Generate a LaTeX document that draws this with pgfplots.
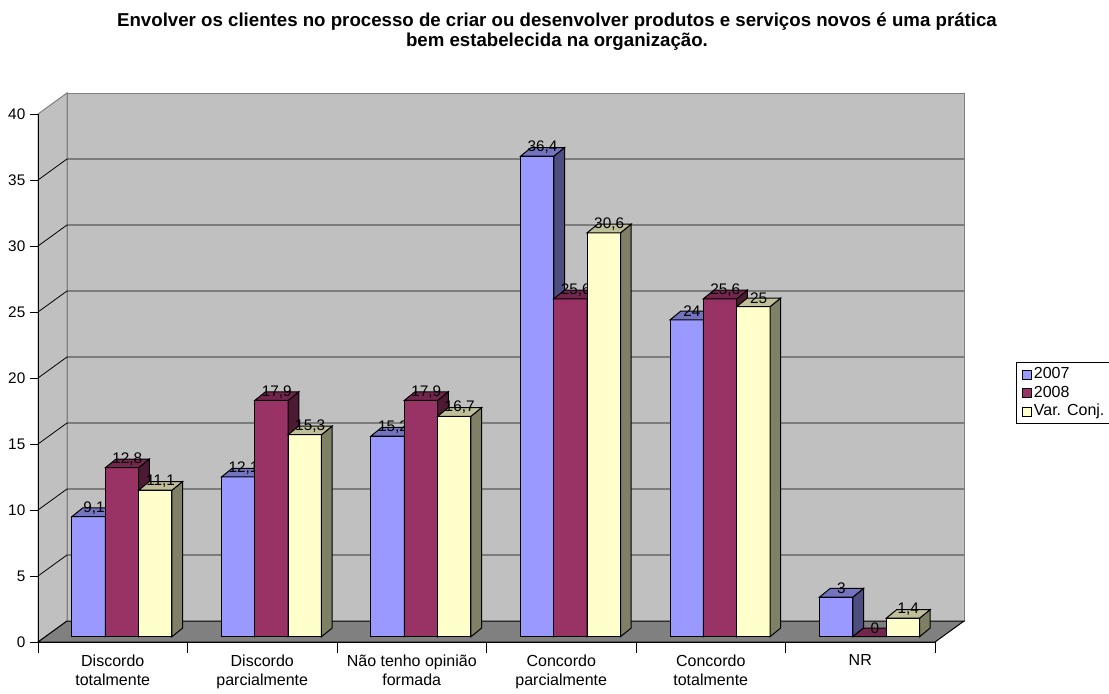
\documentclass[border=0pt]{standalone}
\usepackage{pgfplots}
\pgfplotsset{compat=1.18}
\usepackage{pgfplotstable}
\usepackage{fontspec}
\setmainfont{Liberation Sans}

\definecolor{cA}{HTML}{9999FF}\definecolor{cAs}{HTML}{4D4D80}\definecolor{cAt}{HTML}{7373BF}
\definecolor{cB}{HTML}{993366}\definecolor{cBs}{HTML}{4D1A33}\definecolor{cBt}{HTML}{73264D}
\definecolor{cC}{HTML}{FFFFCC}\definecolor{cCs}{HTML}{808066}\definecolor{cCt}{HTML}{BFBF99}
\definecolor{wallgray}{HTML}{C0C0C0}\definecolor{floorgray}{HTML}{808080}\definecolor{edgegray}{HTML}{808080}

% full 3D bar: front, side and top faces; #1 name, #2 front, #3 side, #4 top, #5 bar shift
\newcommand\defcube[5]{%
\pgfdeclareplotmark{#1}{%
 \begin{pgfscope}%
 \pgftransformxshift{#5}%
 \pgfsetstrokecolor{black}%
 \pgfsetfillcolor{#2}%
 \pgfpathrectanglecorners{\pgfpoint{-12.5pt}{0pt}}{\pgfpoint{12.5pt}{-\h*9.9pt}}%
 \pgfusepath{fill,stroke}%
 \pgfsetfillcolor{#3}%
 \pgfpathmoveto{\pgfpoint{12.5pt}{0pt}}%
 \pgfpathlineto{\pgfpoint{20.5pt}{6.5pt}}%
 \pgfpathlineto{\pgfpoint{20.5pt}{6.5pt-\h*9.9pt}}%
 \pgfpathlineto{\pgfpoint{12.5pt}{-\h*9.9pt}}%
 \pgfpathclose
 \pgfusepath{fill,stroke}%
 \pgfsetfillcolor{#4}%
 \pgfpathmoveto{\pgfpoint{-12.5pt}{0pt}}%
 \pgfpathlineto{\pgfpoint{-4.5pt}{6.5pt}}%
 \pgfpathlineto{\pgfpoint{20.5pt}{6.5pt}}%
 \pgfpathlineto{\pgfpoint{12.5pt}{0pt}}%
 \pgfpathclose
 \pgfusepath{fill,stroke}%
 \end{pgfscope}%
}}
\defcube{cubeA}{cA}{cAs}{cAt}{-25pt}
\defcube{cubeB}{cB}{cBs}{cBt}{0pt}
\defcube{cubeC}{cC}{cCs}{cCt}{25pt}

\pgfplotstableread{
cat a b c
0 9.1 12.8 11.1
1 12.1 17.9 15.3
2 15.2 17.9 16.7
3 36.4 25.6 30.6
4 24 25.6 25
5 3 0 1.4
}\data

\begin{document}
\begin{tikzpicture}
\begin{scope}[x=0.75pt,y=-0.75pt]
\filldraw[fill=wallgray, draw=edgegray, line width=0.75pt] (38,642) -- (38,114) -- (67,93) -- (67,621) -- cycle;
\filldraw[fill=wallgray, draw=edgegray, line width=0.75pt] (67,93) rectangle (964,621);
\foreach \v in {5,10,...,35} {\draw[black, line width=0.6pt] (38,{642-13.2*\v}) -- (67,{621-13.2*\v}) -- (964,{621-13.2*\v});}
\filldraw[fill=floorgray, draw=black, line width=0.75pt] (38,642) -- (935,642) -- (964,621) -- (67,621) -- cycle;
\node[align=center, font=\bfseries\fontsize{14}{15}\selectfont] at (557,32)
 {Envolver os clientes no processo de criar ou desenvolver produtos e serviços novos é uma prática\\bem estabelecida na organização.};
\end{scope}

% front plane: axes, ticks, category labels
\begin{axis}[
 at={(28.5pt,-481.5pt)}, anchor=south west,
 x=112.125pt, y=9.9pt,
 xmin=0, xmax=6, ymin=0, ymax=40,
 axis x line*=bottom, axis y line*=left,
 axis line style={-, black, line width=0.75pt},
 xtick={0,...,6}, x tick label as interval,
 xticklabels={{Discordo\\totalmente},{Discordo\\parcialmente},{Não tenho opinião\\formada},{Concordo\\parcialmente},{Concordo\\totalmente},{NR}},
 ytick={0,5,...,40},
 tick align=outside, major tick length=6pt,
 xtick style={/pgfplots/major tick length=8.25pt},
 tick style={black, line width=0.75pt},
 xticklabel style={align=center, font=\fontsize{12}{14.25}\selectfont, yshift=-2.5pt, inner ysep=1pt},
 yticklabel style={font=\fontsize{11.5}{13}\selectfont},
 /pgf/number format/assume math mode=true,
]
\end{axis}

% bar plane
\begin{axis}[
 at={(33.75pt,-477.525pt)}, anchor=south west,
 x=112.125pt, y=9.9pt,
 xmin=-0.515, xmax=5.48, ymin=0, ymax=40,
 hide axis, clip=false,
 /pgf/number format/use comma,
 /pgf/number format/assume math mode=true,
 nodes near coords,
 nodes near coords style={font=\fontsize{11.5}{13}\selectfont, anchor=center, xshift=4pt, yshift=6.5pt, inner sep=0pt},
 legend style={at={(1.0836,0.5203)}, anchor=north west, draw=black, line width=0.75pt,
   font=\fontsize{12}{13}\selectfont, inner xsep=4pt, inner ysep=2pt, row sep=0pt,
   nodes={inner sep=1.5pt, text height=8.6pt, text depth=2.4pt}},
 legend cell align=left,
 legend image code/.code={\draw[#1, draw=black, line width=0.6pt] (0pt,-3.4pt) rectangle (6.8pt,3.4pt);},
]
\addplot[ybar, bar width=25pt, bar shift=-25pt, fill=cA, draw=black, line width=0.75pt,
  mark=cubeA, visualization depends on={\thisrow{a}\as\h},
  nodes near coords style={xshift=-25pt}] table[x=cat,y=a]{\data};
\addplot[ybar, bar width=25pt, bar shift=0pt, fill=cB, draw=black, line width=0.75pt,
  mark=cubeB, visualization depends on={\thisrow{b}\as\h}] table[x=cat,y=b]{\data};
\addplot[ybar, bar width=25pt, bar shift=25pt, fill=cC, draw=black, line width=0.75pt,
  mark=cubeC, visualization depends on={\thisrow{c}\as\h},
  nodes near coords style={xshift=25pt}] table[x=cat,y=c]{\data};
\legend{2007,2008,Var. Conj.}
\end{axis}

\pgfresetboundingbox
\path[use as bounding box] (0pt,0pt) rectangle (831.75pt,-519.75pt);
\end{tikzpicture}
\end{document}
